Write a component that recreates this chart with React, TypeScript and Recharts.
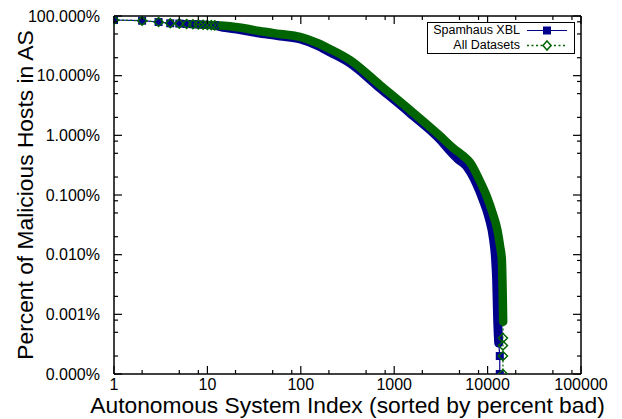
import { LineChart, Line, XAxis, YAxis } from "recharts"

const NAVY = "#00008b"
const GREEN = "#006400"
const FONT = "'Liberation Sans', Arial, Helvetica, sans-serif"

// axis ticks (log scales)
const xMajorTicks = [1, 10, 100, 1000, 10000, 100000]
const xMinorTicks = [2, 5, 8, 20, 50, 80, 200, 500, 800, 2000, 5000, 8000, 20000, 50000, 80000]
const yMajorTicks = [0.0001, 0.001, 0.01, 0.1, 1, 10, 100]
const yMinorTicks = [
	0.0002, 0.0005, 0.0008, 0.002, 0.005, 0.008, 0.02, 0.05, 0.08, 0.2, 0.5, 0.8, 2, 5, 8, 20, 50, 80,
]

// first ASes, drawn as single markers (same for both series)
const headIdx = [1, 2, 3, 4, 5, 6, 7, 8, 9, 10, 11, 12]
const headPct = [85.7, 83.4, 79.3, 75.5, 74.6, 73.6, 72.9, 72.2, 71.5, 70.8, 70.3, 69.8]

// Spamhaus XBL
const xblBodyIdx = [
	12, 14, 22, 36, 60, 98, 150, 205, 336, 704, 1476, 3100, 3965, 4830, 5890, 7540, 8960, 10380, 11600,
	12190, 12500, 12820, 13150,
]
const xblBodyPct = [
	69.8, 66, 59.4, 51.9, 46.2, 41.2, 32.1, 24.9, 16.3, 6.22, 2.37, 0.853, 0.548, 0.4, 0.31, 0.16, 0.0828,
	0.0413, 0.0177, 0.0082, 0.0038, 0.0008, 0.00033,
]
const xblTailIdx = [13500, 13500]
const xblTailPct = [0.0002, 0.0001]

// All Datasets
const allBodyIdx = [
	12, 14, 22, 36, 60, 98, 150, 205, 336, 704, 1476, 3100, 4270, 5420, 6495, 8217, 9820, 11330, 12720,
	13620, 14210, 14500, 14680,
]
const allBodyPct = [
	69.8, 69, 64.2, 56.1, 49.9, 44.5, 35.3, 28.0, 18.3, 6.98, 2.66, 0.977, 0.615, 0.46, 0.35, 0.175, 0.094,
	0.0495, 0.026, 0.0137, 0.0082, 0.0023, 0.00075,
]
const allTailIdx = [14600, 14600, 14600, 14600]
const allTailPct = [0.0004, 0.0003, 0.0002, 0.0001]

const pts = (idx: number[], pct: number[], marker: boolean) =>
	idx.map((v, i) => ({ idx: v, pct: pct[i], marker }))

const head = pts(headIdx, headPct, true)
const xblBand = pts(xblBodyIdx, xblBodyPct, false)
const allBand = pts(allBodyIdx, allBodyPct, false)
const xblAll = [...head, ...xblBand.slice(1), ...pts(xblTailIdx, xblTailPct, true)]
const allAll = [...head, ...allBand.slice(1), ...pts(allTailIdx, allTailPct, true)]

const xTicks = [...xMajorTicks, ...xMinorTicks]
const yTicks = [...yMajorTicks, ...yMinorTicks]

const tickStroke = { stroke: "#000", strokeWidth: 1.2 }

function BottomTick({ x, y, payload }: any) {
	const major = xMajorTicks.includes(payload.value)
	return (
		<g>
			<line x1={x} x2={x} y1={y} y2={y - (major ? 8 : 4)} {...tickStroke} />
			{major && (
				<text x={x} y={y + 16} textAnchor="middle" fontSize={16} fontFamily={FONT} fill="#000">
					{payload.value}
				</text>
			)}
		</g>
	)
}

function TopTick({ x, y, payload }: any) {
	const major = xMajorTicks.includes(payload.value)
	return <line x1={x} x2={x} y1={y} y2={y + (major ? 8 : 4)} {...tickStroke} />
}

function LeftTick({ x, y, payload }: any) {
	const major = yMajorTicks.includes(payload.value)
	return (
		<g>
			<line x1={x} x2={x + (major ? 8 : 4)} y1={y} y2={y} {...tickStroke} />
			{major && (
				<text
					x={x - 14}
					y={y}
					textAnchor="end"
					dominantBaseline="central"
					fontSize={16}
					fontFamily={FONT}
					fill="#000"
				>
					{payload.value.toFixed(3)}%
				</text>
			)}
		</g>
	)
}

function RightTick({ x, y, payload }: any) {
	const major = yMajorTicks.includes(payload.value)
	return <line x1={x} x2={x - (major ? 8 : 4)} y1={y} y2={y} {...tickStroke} />
}

function YTitle({ viewBox }: any) {
	const cx = viewBox.x + 25
	const cy = viewBox.y + viewBox.height / 2
	return (
		<text
			x={cx}
			y={cy}
			transform={`rotate(-90 ${cx} ${cy})`}
			textAnchor="middle"
			dominantBaseline="central"
			fontSize={22.8}
			fontFamily={FONT}
			fill="#000"
		>
			Percent of Malicious Hosts in AS
		</text>
	)
}

const renderSquare = (p: any) =>
	p.payload.marker ? (
		<rect key={`sq-${p.index}`} x={p.cx - 4} y={p.cy - 4} width={8} height={8} fill={NAVY} />
	) : (
		<g key={`sq-${p.index}`} />
	)

const renderDiamond = (p: any) =>
	p.payload.marker ? (
		<path
			key={`dm-${p.index}`}
			d={`M${p.cx},${p.cy - 4.5}L${p.cx + 4.5},${p.cy}L${p.cx},${p.cy + 4.5}L${p.cx - 4.5},${p.cy}Z`}
			fill="none"
			stroke={GREEN}
			strokeWidth={1.5}
		/>
	) : (
		<g key={`dm-${p.index}`} />
	)

function ChartLegend() {
	const row = { display: "flex", alignItems: "center", height: 15 }
	return (
		<div
			style={{
				position: "absolute",
				left: 427,
				top: 22,
				width: 146,
				height: 30,
				border: "1px solid #000",
				background: "#fff",
				fontFamily: FONT,
				fontSize: 12.5,
				lineHeight: "15px",
			}}
		>
			<div style={row}>
				<span style={{ width: 92, textAlign: "right" }}>Spamhaus XBL</span>
				<svg width={48} height={15} style={{ marginLeft: 6 }}>
					<line x1={1} x2={41} y1={7.5} y2={7.5} stroke={NAVY} strokeWidth={1.2} />
					<rect x={17} y={3.5} width={8} height={8} fill={NAVY} />
				</svg>
			</div>
			<div style={row}>
				<span style={{ width: 92, textAlign: "right" }}>All Datasets</span>
				<svg width={48} height={15} style={{ marginLeft: 6 }}>
					<line x1={1} x2={41} y1={7.5} y2={7.5} stroke={GREEN} strokeWidth={1.5} strokeDasharray="2 2.5" />
					<path d="M21,3L25,7.5L21,12L17,7.5Z" fill="#fff" stroke={GREEN} strokeWidth={1.5} />
				</svg>
			</div>
		</div>
	)
}

export default function App() {
	return (
		<div style={{ position: "absolute", left: 0, top: 0, width: 622, height: 419, background: "#fff" }}>
			<LineChart width={622} height={419} margin={{ top: 0, right: 0, bottom: 0, left: 0 }}>
				<XAxis
					xAxisId="b"
					dataKey="idx"
					type="number"
					scale="log"
					domain={[1, 100000]}
					allowDataOverflow
					ticks={xTicks}
					interval={0}
					height={45}
					tickSize={0}
					tickMargin={0}
					tickLine={false}
					tick={<BottomTick />}
					axisLine={{ stroke: "#000", strokeWidth: 1.5 }}
					label={{
						value: "Autonomous System Index (sorted by percent bad)",
						position: "insideBottom",
						offset: 6,
						fontSize: 22.8,
						fill: "#000",
						fontFamily: FONT,
					}}
				/>
				<XAxis
					xAxisId="t"
					orientation="top"
					dataKey="idx"
					type="number"
					scale="log"
					domain={[1, 100000]}
					allowDataOverflow
					ticks={xTicks}
					interval={0}
					height={16}
					tickSize={0}
					tickMargin={0}
					tickLine={false}
					tick={<TopTick />}
					axisLine={{ stroke: "#000", strokeWidth: 1.5 }}
				/>
				<YAxis
					yAxisId="l"
					type="number"
					scale="log"
					domain={[0.0001, 100]}
					allowDataOverflow
					ticks={yTicks}
					interval={0}
					width={114}
					tickSize={0}
					tickMargin={0}
					tickLine={false}
					tick={<LeftTick />}
					axisLine={{ stroke: "#000", strokeWidth: 1.5 }}
					label={<YTitle />}
				/>
				<YAxis
					yAxisId="r"
					orientation="right"
					type="number"
					scale="log"
					domain={[0.0001, 100]}
					allowDataOverflow
					ticks={yTicks}
					interval={0}
					width={41}
					tickSize={0}
					tickMargin={0}
					tickLine={false}
					tick={<RightTick />}
					axisLine={{ stroke: "#000", strokeWidth: 1.5 }}
				/>
				<Line
					data={xblBand}
					dataKey="pct"
					xAxisId="b"
					yAxisId="l"
					type="monotone"
					stroke={NAVY}
					strokeWidth={9}
					strokeLinecap="round"
					strokeLinejoin="round"
					dot={false}
					activeDot={false}
					isAnimationActive={false}
				/>
				<Line
					data={xblAll}
					dataKey="pct"
					xAxisId="b"
					yAxisId="l"
					stroke={NAVY}
					strokeWidth={1.2}
					dot={renderSquare}
					activeDot={false}
					isAnimationActive={false}
				/>
				<Line
					data={allBand}
					dataKey="pct"
					xAxisId="b"
					yAxisId="l"
					type="monotone"
					stroke={GREEN}
					strokeWidth={8.5}
					strokeLinecap="round"
					strokeLinejoin="round"
					dot={false}
					activeDot={false}
					isAnimationActive={false}
				/>
				<Line
					data={allAll}
					dataKey="pct"
					xAxisId="b"
					yAxisId="l"
					stroke={GREEN}
					strokeWidth={1.2}
					strokeDasharray="2 2"
					dot={renderDiamond}
					activeDot={false}
					isAnimationActive={false}
				/>
			</LineChart>
			<ChartLegend />
		</div>
	)
}
